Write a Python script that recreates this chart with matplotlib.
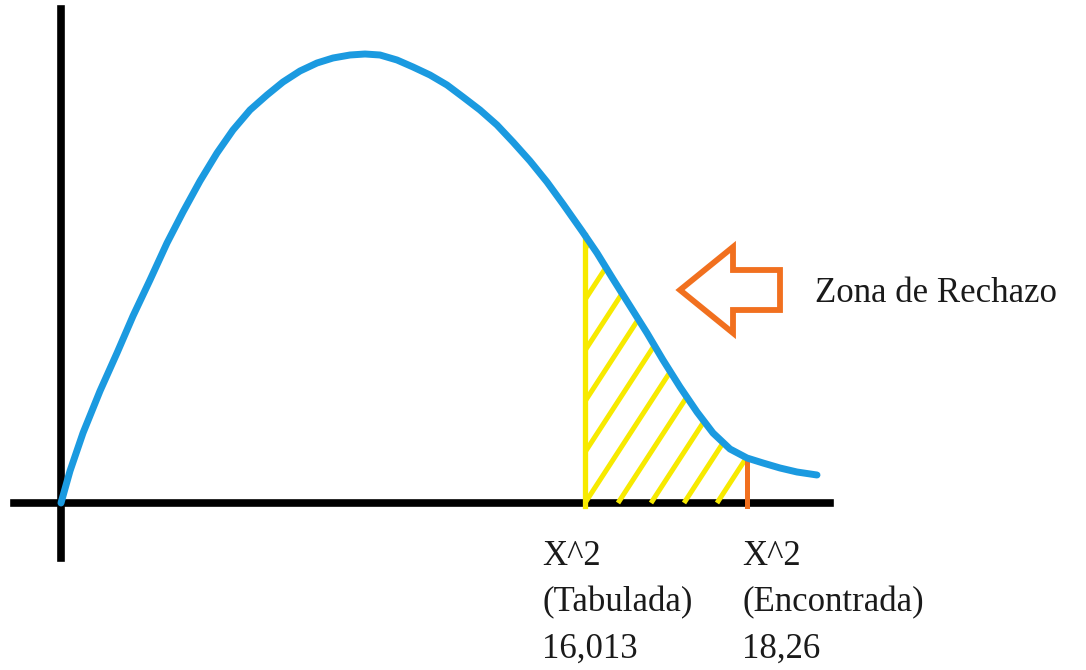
import numpy as np
import matplotlib
matplotlib.use("Agg")
import matplotlib.pyplot as plt
from matplotlib.patches import FancyArrow

# Curva (dibujada a mano)
curva_x = [0, 9, 22, 39, 56, 72, 89, 106, 122, 139, 156, 172, 189, 206, 222,
           239, 256, 272, 289, 304, 319, 336, 352, 369, 386, 402, 419, 436,
           452, 469, 486, 502, 521, 536, 552, 569, 586, 602, 619, 636, 652,
           669, 686, 702, 719, 736, 756]
curva_y = [0, 32, 70, 112, 150, 187, 223, 260, 291, 322, 350, 373, 393, 408,
           421, 432, 440, 445, 448, 449, 448, 443, 436, 428, 418, 406, 393,
           378, 361, 342, 321, 299, 272, 250, 224, 197, 170, 143, 116, 91, 70,
           54, 45, 40, 35, 31, 28]

x_tabulada = 524
x_encontrada = 686
etiqueta_tab = ["X^2", "(Tabulada)", "16,013"]
etiqueta_enc = ["X^2", "(Encontrada)", "18,26"]
texto_zona = "Zona de Rechazo"

azul = "#1b9ae0"
amarillo = "#f7ea00"
naranja = "#f1701f"

fig = plt.figure(figsize=(10.86, 6.70), dpi=100)
ax = fig.add_axes([0, 0, 1, 1])
ax.set_xlim(-61, 1025)
ax.set_ylim(-167, 503)

# ejes en el origen
for lado in ["top", "right"]:
    ax.spines[lado].set_visible(False)
ax.spines["left"].set_position(("data", 0))
ax.spines["bottom"].set_position(("data", 0))
ax.spines["left"].set_bounds(-55, 494)
ax.spines["bottom"].set_bounds(-47, 769)
ax.spines["left"].set_linewidth(5.5)
ax.spines["bottom"].set_linewidth(5.5)
ax.set_xticks([])
ax.set_yticks([])

cx = np.array(curva_x)
cy = np.array(curva_y)
y_tab = np.interp(x_tabulada, cx, cy)
y_enc = np.interp(x_encontrada, cx, cy)

# zona de rechazo rayada
dentro = (cx > x_tabulada) & (cx < x_encontrada)
zx = np.concatenate([[x_tabulada], cx[dentro], [x_encontrada]])
zy = np.concatenate([[y_tab], cy[dentro], [y_enc]])
zona = ax.fill_between(zx, zy, -4, facecolor="none", edgecolor="none")
ruta = zona.get_paths()[0]
ang = np.deg2rad(57)
largo = 400
for x0 in np.arange(x_tabulada - 33 * 6, x_encontrada + 10, 33):
    ln, = ax.plot([x0, x0 + largo * np.cos(ang)], [0, largo * np.sin(ang)],
                  color=amarillo, lw=3.6, zorder=3, solid_capstyle="butt")
    ln.set_clip_path(ruta, ax.transData)

ax.plot([x_tabulada, x_tabulada], [-3, y_tab], color=amarillo, lw=3.8, zorder=3)
ax.plot([x_encontrada, x_encontrada], [-3, y_enc], color=naranja, lw=3.6, zorder=3)

ax.plot(cx, cy, color=azul, lw=5, zorder=4, solid_capstyle="round",
        solid_joinstyle="round")

# flecha
flecha = FancyArrow(719, 213, -100, 0, width=40, head_width=86, head_length=53,
                    length_includes_head=True, fill=False, edgecolor=naranja,
                    lw=4.2, joinstyle="miter")
ax.add_patch(flecha)

fuente = dict(family="Liberation Serif", fontsize=25, color="#1a1a1a")
ax.text(754, 201, texto_zona, ha="left", va="baseline", **fuente)

base_y = [-62, -108, -155]
for txt, yy in zip(etiqueta_tab, base_y):
    ax.text(481, yy, txt, ha="left", va="baseline", **fuente)
for txt, yy in zip(etiqueta_enc, base_y):
    ax.text(681, yy, txt, ha="left", va="baseline", **fuente)

fig.savefig("out.png", dpi=100)
